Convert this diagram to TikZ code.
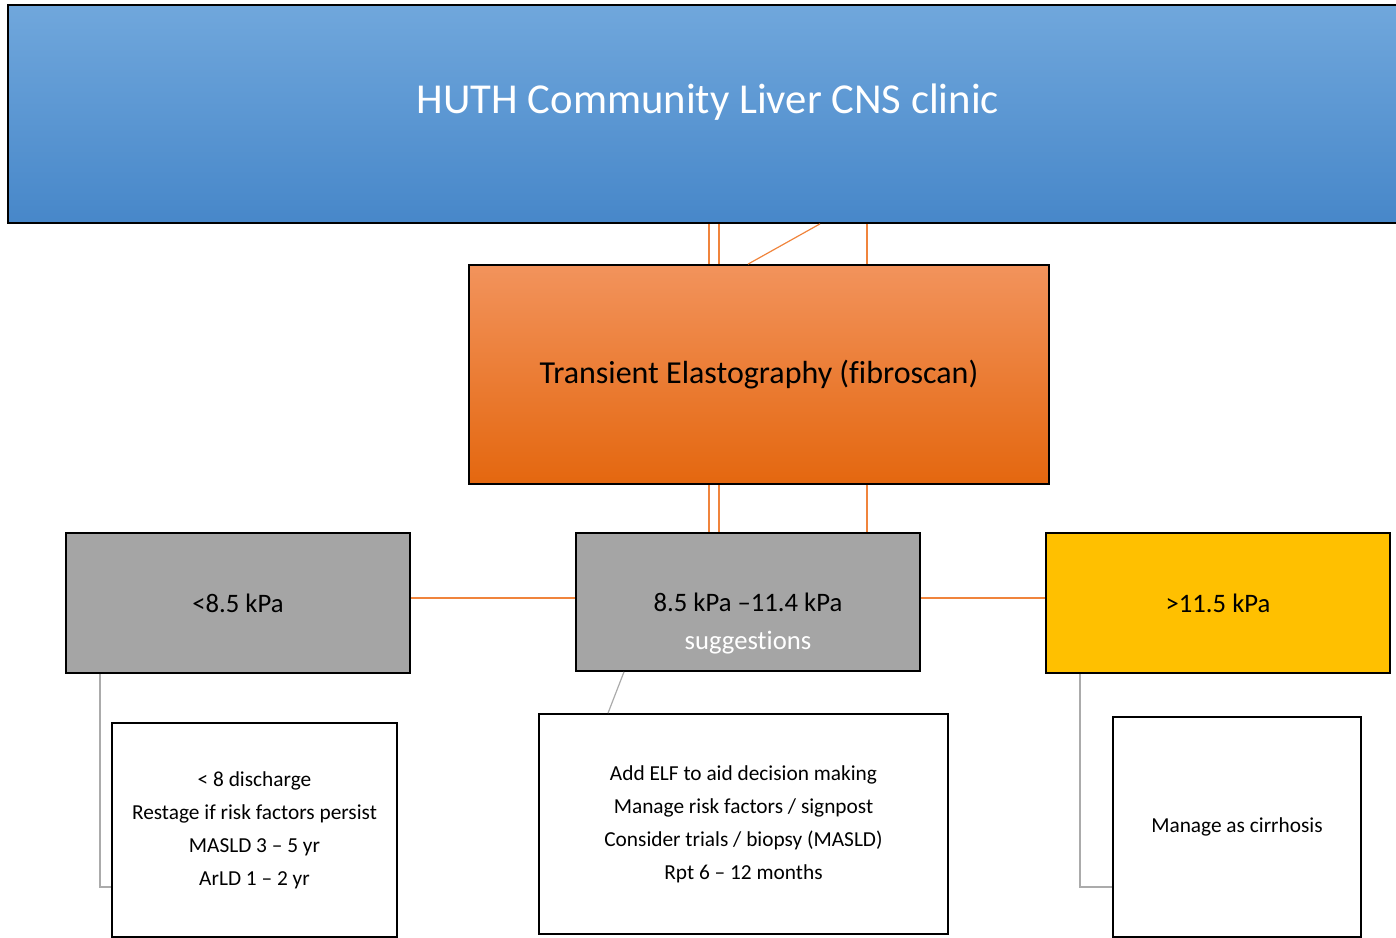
\documentclass[tikz,border=0pt]{standalone}
\usepackage{fontspec}
\setmainfont{Carlito}[Ligatures=CommonOff]
\usetikzlibrary{shapes}
\definecolor{bluetop}{HTML}{70A7DC}
\definecolor{bluebot}{HTML}{4787C9}
\definecolor{orangetop}{HTML}{F2935C}
\definecolor{orangebot}{HTML}{E4670F}
\definecolor{kpagray}{HTML}{A5A5A5}
\definecolor{kpayellow}{HTML}{FFC000}
\definecolor{linkorange}{HTML}{F0843C}
\definecolor{linkgray}{HTML}{ABABAB}
\tikzset{
  box/.style={draw=black,line width=1.3pt,rectangle,inner sep=0pt},
  kpabox/.style={box,minimum width=344*0.75pt,minimum height=140*0.75pt,font=\fontsize{20}{24}\selectfont},
  notebox/.style={box,fill=white,align=center,font=\fontsize{16}{24.75}\selectfont},
  orangelink/.style={linkorange,line width=0.9pt},
  graylink/.style={linkgray,line width=0.9pt}
}

\begin{document}
\begin{tikzpicture}[x=0.75pt,y=-0.75pt]

\useasboundingbox (0,0) rectangle (1396,938);

\node[box,top color=bluetop,bottom color=bluebot,minimum width=1392*0.75pt,minimum height=218*0.75pt] (clinic) at (704,114) {};
\node[text=white,font=\fontsize{32}{38}\selectfont] (title) at (708,102) {HUTH Community Liver CNS clinic};

\node[box,top color=orangetop,bottom color=orangebot,minimum width=580*0.75pt,minimum height=219*0.75pt,font=\fontsize{24}{28}\selectfont] (fibro) at (759,374.5) {Transient Elastography (fibroscan)};

\node[kpabox,fill=kpagray] (low) at (238,603) {<8.5 kPa};

\node[kpabox,fill=kpagray,minimum height=138*0.75pt] (mid) at (748,602) {8.5 kPa --11.4 kPa};
\node[text=white,font=\fontsize{20}{24}\selectfont] (sugg) at (748,643) {suggestions};

\node[kpabox,fill=kpayellow] (high) at (1218,603) {>11.5 kPa};

\node[notebox,minimum width=285*0.75pt,minimum height=214*0.75pt] (lownote) at (254.5,830) {< 8 discharge\\Restage if risk factors persist\\MASLD 3 -- 5 yr\\ArLD 1 -- 2 yr};

\node[notebox,minimum width=409*0.75pt,minimum height=220*0.75pt] (midnote) at (743.5,824) {Add ELF to aid decision making\\Manage risk factors / signpost\\Consider trials / biopsy (MASLD)\\Rpt 6 -- 12 months};

\node[notebox,minimum width=248*0.75pt,minimum height=220*0.75pt] (highnote) at (1237,827) {Manage as cirrhosis};

% links clinic - fibroscan
\draw[orangelink] (709,0 |- clinic.south) -- (709,0 |- fibro.north);
\draw[orangelink] (719,0 |- clinic.south) -- (719,0 |- fibro.north);
\draw[orangelink] (867,0 |- clinic.south) -- (867,0 |- fibro.north);
\draw[orangelink] (820,0 |- clinic.south) -- (748,0 |- fibro.north);

% links fibroscan - middle range
\draw[orangelink] (709,0 |- fibro.south) -- (709,0 |- mid.north);
\draw[orangelink] (719,0 |- fibro.south) -- (719,0 |- mid.north);
\draw[orangelink] (867,0 |- fibro.south) -- (867,0 |- mid.north);

\draw[orangelink] (low.east |- 0,598) -- (mid.west |- 0,598);
\draw[orangelink] (mid.east |- 0,598) -- (high.west |- 0,598);

% notes
\draw[graylink] (100,0 |- low.south) |- (lownote.west |- 0,887);
\draw[graylink] (624,0 |- mid.south) -- (608,0 |- midnote.north);
\draw[graylink] (1080,0 |- high.south) |- (highnote.west |- 0,887);

\end{tikzpicture}
\end{document}
